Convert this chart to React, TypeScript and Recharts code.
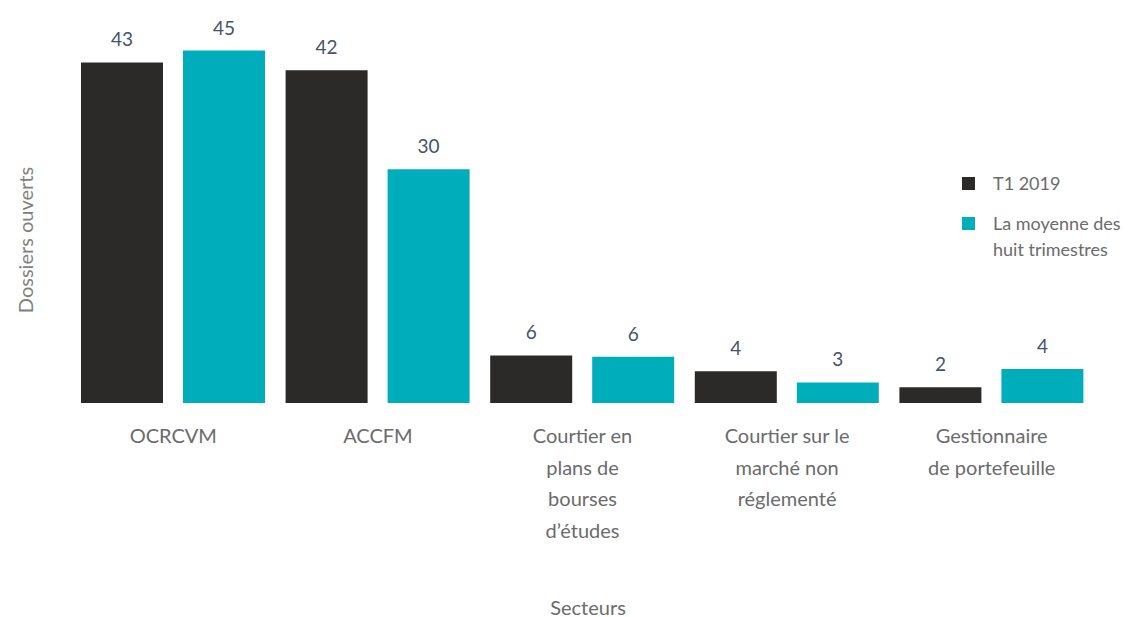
import React from "react";
import { BarChart, Bar, XAxis, YAxis, LabelList } from "recharts";

const categories = [
  "OCRCVM",
  "ACCFM",
  "Courtier en plans de bourses d’études",
  "Courtier sur le marché non réglementé",
  "Gestionnaire de portefeuille",
];
const tickLines: string[][] = [
  ["OCRCVM"],
  ["ACCFM"],
  ["Courtier en", "plans de", "bourses", "d’études"],
  ["Courtier sur le", "marché non", "réglementé"],
  ["Gestionnaire", "de portefeuille"],
];
const t1_2019 = [43, 42, 6, 4, 2];
const moyenne = [44.5, 29.5, 5.85, 2.6, 4.3];
const seriesNames = ["T1 2019", "La moyenne des huit trimestres"];

const data = categories.map((c, i) => ({ name: c, idx: i, t1: t1_2019[i], avg: moyenne[i] }));

const FONT = "Lato, 'Open Sans', sans-serif";
const BLACK = "#2b2a29";
const TEAL = "#00adbb";

const CustomTick = (props: any) => {
  const { x, y, index } = props;
  const lines = tickLines[index] || [];
  return (
    <g>
      {lines.map((l, i) => (
        <text
          key={i}
          x={x}
          y={y + 32}
          dy={i * 31.5}
          textAnchor="middle"
          fill="#6b6b6b"
          fontSize={20}
          fontFamily={FONT}
        >
          {l}
        </text>
      ))}
    </g>
  );
};

const fmt = (v: any) => Math.round(Number(v));

export default function App() {
  return (
    <div style={{ position: "absolute", left: 0, top: 0, width: 1142, height: 617, background: "#fff" }}>
      <BarChart
        width={1142}
        height={617}
        data={data}
        margin={{ top: 7, right: 48, bottom: 0, left: 71 }}
        barCategoryGap={10}
        barGap={20}
      >
        <XAxis
          dataKey="name"
          axisLine={false}
          tickLine={false}
          height={214}
          interval={0}
          tick={<CustomTick />}
        />
        <YAxis hide domain={[0, 50]} />
        <Bar dataKey="t1" name={seriesNames[0]} fill={BLACK} isAnimationActive={false}>
          <LabelList dataKey="t1" position="top" offset={16} formatter={fmt} fill="#44546a" fontSize={19} fontFamily={FONT} />
        </Bar>
        <Bar dataKey="avg" name={seriesNames[1]} fill={TEAL} isAnimationActive={false}>
          <LabelList dataKey="avg" position="top" offset={16} formatter={fmt} fill="#44546a" fontSize={19} fontFamily={FONT} />
        </Bar>
      </BarChart>
      <div style={{ position: "absolute", left: 962, top: 170, width: 180, fontFamily: FONT, fontSize: 18, color: "#6b6b6b" }}>
        <div style={{ display: "flex", alignItems: "center", height: 26 }}>
          <span style={{ width: 13, height: 13, background: BLACK, display: "inline-block", marginRight: 18, flexShrink: 0 }} />
          <span>{seriesNames[0]}</span>
        </div>
        <div style={{ display: "flex", alignItems: "flex-start", marginTop: 14 }}>
          <span style={{ width: 13, height: 13, background: TEAL, display: "inline-block", marginRight: 18, marginTop: 7, flexShrink: 0 }} />
          <span style={{ width: 150, lineHeight: "26px" }}>{seriesNames[1]}</span>
        </div>
      </div>
      <div
        style={{
          position: "absolute",
          left: 588,
          top: 607,
          transform: "translate(-50%, -50%)",
          fontFamily: FONT,
          fontSize: 20,
          color: "#6b6b6b",
          whiteSpace: "nowrap",
        }}
      >
        Secteurs
      </div>
      <div
        style={{
          position: "absolute",
          left: 25,
          top: 240,
          transform: "translate(-50%, -50%) rotate(-90deg)",
          fontFamily: FONT,
          fontSize: 20,
          color: "#7f7f7f",
          whiteSpace: "nowrap",
        }}
      >
        Dossiers ouverts
      </div>
    </div>
  );
}
